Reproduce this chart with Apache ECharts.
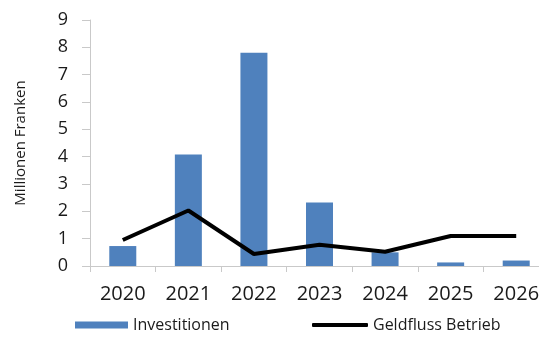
<!DOCTYPE html>
<html>
<head>
<meta charset="utf-8">
<script src="https://cdn.jsdelivr.net/npm/echarts@6/dist/echarts.min.js"></script>
<style>
  html, body { margin: 0; padding: 0; background: #fff; }
  #chart { width: 539px; height: 339px; }
</style>
</head>
<body>
<div id="chart"></div>
<script>
// Jahre und Werte in Millionen Franken
const years = ['2020', '2021', '2022', '2023', '2024', '2025', '2026'];
const investitionen = [0.73, 4.08, 7.8, 2.32, 0.5, 0.13, 0.2];
const geldfluss = [0.95, 2.03, 0.44, 0.78, 0.52, 1.1, 1.1];
const yTicks = [0, 1, 2, 3, 4, 5, 6, 7, 8, 9];

const font = '"Open Sans", "Noto Sans", sans-serif';
const axisGray = '#c9c9c9';
const textColor = '#1a1a1a';

const chart = echarts.init(document.getElementById('chart'));
chart.setOption({
  animation: false,
  backgroundColor: '#ffffff',
  textStyle: { fontFamily: font },
  // plot area runs a little past the right edge of the canvas
  grid: { left: 90, top: 20, width: 459, bottom: 73, containLabel: false, outerBoundsMode: 'none' },
  legend: [
    {
      data: [{ name: 'Investitionen', icon: 'rect' }], left: 75, top: 317, padding: 0,
      itemWidth: 53, itemHeight: 7, itemGap: 6,
      textStyle: { fontFamily: font, fontSize: 16, color: textColor }
    },
    {
      data: [{ name: 'Geldfluss Betrieb', icon: 'roundRect', itemStyle: { color: '#000000' } }],
      left: 312, top: 317, padding: 0,
      itemWidth: 56, itemHeight: 4, itemGap: 6,
      textStyle: { fontFamily: font, fontSize: 16, color: textColor }
    }
  ],
  xAxis: {
    type: 'category',
    data: years,
    axisLine: { lineStyle: { color: axisGray, width: 1 } },
    axisTick: { show: true, length: 6, lineStyle: { color: axisGray } },
    axisLabel: { fontFamily: font, fontSize: 20, color: textColor, margin: 18 }
  },
  yAxis: {
    type: 'value',
    min: yTicks[0],
    max: yTicks[yTicks.length - 1],
    interval: 1,
    name: 'Millionen Franken',
    nameLocation: 'middle',
    nameGap: 62,
    nameTextStyle: { fontFamily: font, fontSize: 15, color: textColor },
    axisLine: { show: true, lineStyle: { color: axisGray, width: 1 } },
    axisTick: { show: true, length: 8, lineStyle: { color: axisGray } },
    splitLine: { show: false },
    axisLabel: { fontFamily: font, fontSize: 18, color: textColor, margin: 22 }
  },
  series: [
    {
      name: 'Investitionen',
      type: 'bar',
      data: investitionen,
      barWidth: 27,
      itemStyle: { color: '#4f81bd' }
    },
    {
      name: 'Geldfluss Betrieb',
      type: 'line',
      data: geldfluss,
      symbol: 'none',
      lineStyle: { color: '#000000', width: 4 },
      itemStyle: { color: '#000000' }
    }
  ]
});
</script>
</body>
</html>
